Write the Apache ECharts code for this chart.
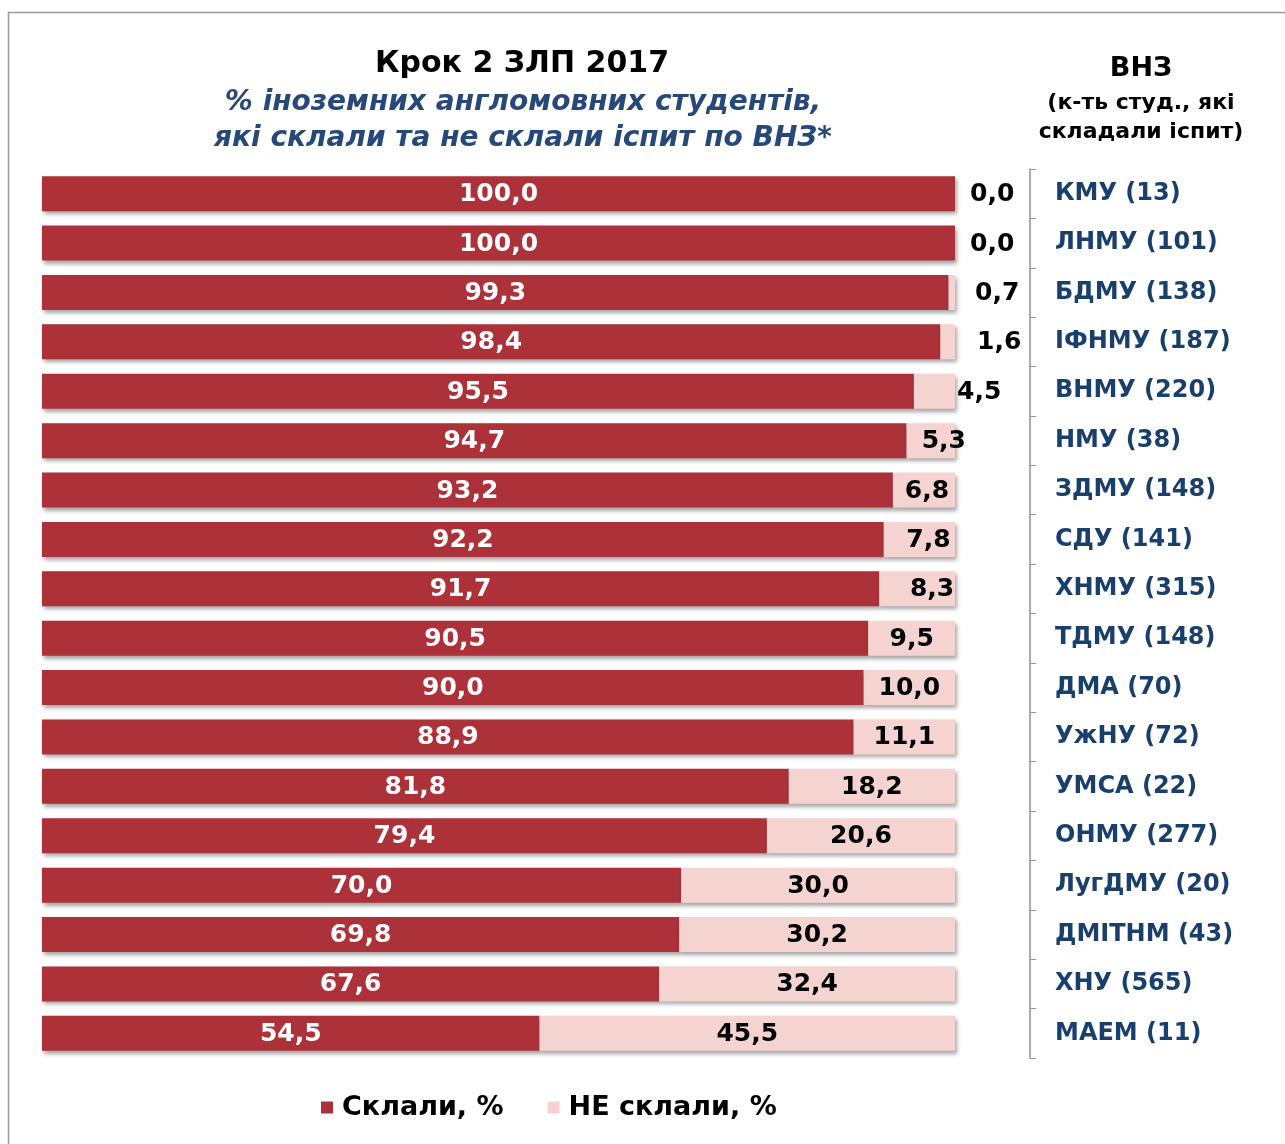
<!DOCTYPE html>
<html>
<head>
<meta charset="utf-8">
<script src="https://cdn.jsdelivr.net/npm/echarts@6/dist/echarts.min.js"></script>
<style>
    html, body { margin: 0; padding: 0; background: #fff; }
    #chart { width: 1285px; height: 1144px; }
</style>
</head>
<body>
<div id="chart"></div>
<script>
const categories = [
    "КМУ (13)", "ЛНМУ (101)", "БДМУ (138)", "ІФНМУ (187)", "ВНМУ (220)", "НМУ (38)",
    "ЗДМУ (148)", "СДУ (141)", "ХНМУ (315)", "ТДМУ (148)", "ДМА (70)", "УжНУ (72)",
    "УМСА (22)", "ОНМУ (277)", "ЛугДМУ (20)", "ДМІТНМ (43)", "ХНУ (565)", "МАЕМ (11)"
];
const passed = [100.0, 100.0, 99.3, 98.4, 95.5, 94.7, 93.2, 92.2, 91.7, 90.5, 90.0, 88.9, 81.8, 79.4, 70.0, 69.8, 67.6, 54.5];
const failed = [0.0, 0.0, 0.7, 1.6, 4.5, 5.3, 6.8, 7.8, 8.3, 9.5, 10.0, 11.1, 18.2, 20.6, 30.0, 30.2, 32.4, 45.5];
const seriesNames = ["Склали, %", "НЕ склали, %"];

const FONT = '"DejaVu Sans", "Liberation Sans", Arial, sans-serif';
const PASS_COLOR = "#AC3139";
const FAIL_COLOR = "#F5D3D0";

// labels of tiny "failed" values sit outside the bar, like in the original
const outsideLabelGap = { 0: 15, 1: 15, 2: 20, 3: 22, 4: 2 };
// a few inside labels were nudged right in the original
const insideLabelShift = { 5: 13, 6: 3, 7: 9, 8: 15 };

function fmt(v) {
    return Number(v).toFixed(1).replace(".", ",");
}

const barShadow = {
    shadowBlur: 4,
    shadowColor: "rgba(0,0,0,0.35)",
    shadowOffsetX: 2,
    shadowOffsetY: 3
};

const failData = failed.map((v, i) => {
    if (outsideLabelGap[i] !== undefined) {
        return { value: v, label: { position: "right", distance: outsideLabelGap[i] } };
    }
    if (insideLabelShift[i] !== undefined) {
        return { value: v, label: { offset: [insideLabelShift[i], 1] } };
    }
    return { value: v };
});

const chart = echarts.init(document.getElementById("chart"));

chart.setOption({
    animation: false,
    backgroundColor: "#fff",
    title: [
        {
            text: "Крок 2 ЗЛП 2017",
            left: 517,
            top: 44,
            textAlign: "center",
            textStyle: { fontFamily: FONT, fontWeight: "bold", fontSize: 30, color: "#000" }
        },
        {
            text: "% іноземних англомовних студентів,\nякі склали та не склали іспит по ВНЗ*",
            left: 518,
            top: 80,
            textAlign: "center",
            textStyle: {
                fontFamily: FONT, fontWeight: "bold", fontStyle: "italic",
                fontSize: 28, lineHeight: 36, color: "#27497A"
            }
        },
        {
            text: "ВНЗ",
            left: 1136,
            top: 50,
            textAlign: "center",
            textStyle: { fontFamily: FONT, fontWeight: "bold", fontSize: 27, color: "#000" }
        },
        {
            text: "(к-ть студ., які\nскладали іспит)",
            left: 1136,
            top: 84,
            textAlign: "center",
            textStyle: { fontFamily: FONT, fontWeight: "bold", fontSize: 22, lineHeight: 29, color: "#000" }
        }
    ],
    graphic: [
        {
            type: "rect",
            shape: { x: 8.5, y: 12.5, width: 1300, height: 1200 },
            style: { fill: "none", stroke: "#999", lineWidth: 1.5 },
            silent: true
        }
    ],
    legend: {
        left: 316,
        top: 1089,
        itemWidth: 12,
        itemHeight: 12,
        itemGap: 44,
        icon: "rect",
        data: seriesNames,
        textStyle: { fontFamily: FONT, fontWeight: "bold", fontSize: 27, color: "#000", padding: [0, 0, 0, 4] }
    },
    grid: {
        left: 42,
        right: 330,
        top: 169,
        height: 889,
        containLabel: false
    },
    xAxis: {
        type: "value",
        min: 0,
        max: 100,
        show: false
    },
    yAxis: {
        type: "category",
        data: categories,
        inverse: true,
        position: "right",
        offset: 75,
        axisLine: { show: true, onZero: false, lineStyle: { color: "#8C929B", width: 1.5 } },
        axisTick: { show: true, length: 6, lineStyle: { color: "#8C929B" } },
        axisLabel: {
            margin: 25,
            fontFamily: FONT,
            fontWeight: "bold",
            fontSize: 24,
            color: "#193F6D"
        },
        splitLine: { show: false }
    },
    series: [
        {
            name: seriesNames[0],
            type: "bar",
            stack: "total",
            data: passed,
            barWidth: 35,
            itemStyle: Object.assign({ color: PASS_COLOR }, barShadow),
            label: {
                show: true,
                position: "inside",
                offset: [0, 1],
                formatter: p => fmt(p.value),
                fontFamily: FONT,
                fontWeight: "bold",
                fontSize: 25,
                color: "#fff"
            }
        },
        {
            name: seriesNames[1],
            type: "bar",
            stack: "total",
            data: failData,
            barWidth: 35,
            itemStyle: Object.assign({ color: FAIL_COLOR }, barShadow),
            label: {
                show: true,
                position: "inside",
                offset: [0, 1],
                formatter: p => fmt(p.value),
                fontFamily: FONT,
                fontWeight: "bold",
                fontSize: 25,
                color: "#000"
            }
        }
    ]
});
</script>
</body>
</html>
